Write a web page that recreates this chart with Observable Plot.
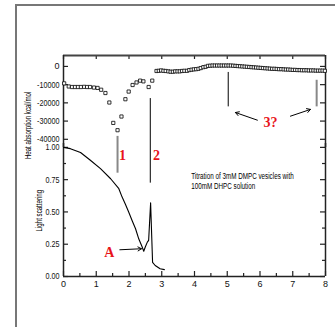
<!DOCTYPE html>
<html><head><meta charset="utf-8">
<script src="https://cdn.jsdelivr.net/npm/d3@7"></script>
<script src="https://cdn.jsdelivr.net/npm/@observablehq/plot@0.6"></script>
<style>
html,body{margin:0;padding:0;background:#fff;}
#wrap{position:relative;width:335px;height:327px;overflow:hidden;}
#frame{position:absolute;left:15px;top:4px;width:340px;height:340px;border-top:2px solid #777;border-left:2px solid #777;}
#wrap svg{position:absolute;left:0;top:0;background:none !important;}
</style></head><body><div id="wrap"><div id="frame"></div></div>
<script>
// Heat absorption (kcal/mol) — open squares, top panel
const heatX = [0.02,0.16,0.26,0.35,0.44,0.53,0.63,0.72,0.81,0.93,1.04,1.15,1.28,1.40,1.52,1.65,1.77,1.89,1.99,2.11,2.23,2.34,2.44,2.60,2.71,
  2.84,2.91,2.98,3.05,3.12,3.20,3.27,3.34,3.41,3.48,3.55,3.62,3.69,3.77,3.84,3.91,3.98,4.05,4.12,4.19,4.27,4.34,
  4.41,4.48,4.55,4.62,4.69,4.76,4.83,4.90,4.97,5.04,5.11,5.18,5.25,5.32,5.39,5.46,5.53,5.60,5.67,5.74,5.81,5.88,5.95,
  6.02,6.09,6.16,6.23,6.30,6.37,6.44,6.51,6.58,6.65,6.72,6.79,6.86,6.93,7.00,7.07,7.14,7.21,7.28,7.35,7.42,7.49,7.56,7.63,7.70,7.77,7.84,7.91,7.98];
const heatY = [-9300,-11000,-11300,-11300,-11300,-11300,-11200,-11300,-11300,-11600,-11800,-12800,-14600,-19800,-31000,-35000,-27500,-18000,-13800,-10200,-8800,-7800,-8200,-11300,-7800,
  -2500,-2400,-2200,-2400,-2500,-2700,-2900,-2900,-2700,-2700,-2700,-2500,-2400,-2400,-2000,-1800,-1600,-1500,-1300,-900,-400,-200,
  300,400,500,500,500,500,500,500,500,500,500,400,300,200,100,0,-100,-200,-300,-400,-500,-600,-700,
  -800,-900,-1000,-1100,-1200,-1300,-1300,-1400,-1500,-1500,-1600,-1700,-1700,-1800,-1900,-1900,-2000,-2000,-2100,-2100,-2100,-2200,-2200,-2200,-2300,-2300,-2300,-2300,-2400];
// Light scattering — line, bottom panel
const scatX = [0,0.21,0.52,0.82,1.13,1.44,1.69,1.79,1.89,1.99,2.10,2.20,2.30,2.40,2.45,2.50,2.56,2.60,2.66,2.72,2.80,2.95,3.08];
const scatY = [1.0,0.99,0.96,0.90,0.835,0.757,0.68,0.615,0.56,0.50,0.43,0.37,0.29,0.23,0.196,0.23,0.266,0.28,0.57,0.11,0.085,0.06,0.053];
// ticks
const xTicks = [0,1,2,3,4,5,6,7,8];
const xMinor = [0.5,1.5,2.5,3.5,4.5,5.5,6.5,7.5];
const heatTicks = [0,-10000,-20000,-30000,-40000];
const scatTicks = [0,0.25,0.5,0.75,1.0];
const scatMinor = [0.125,0.375,0.625,0.875];
// annotations
const markLines = [
  {name:"1", x:1.65, y1:1.085, y2:0.80, color:"#888", w:2},
  {name:"2", x:2.65, y1:1.378, y2:0.723, color:"#000", w:1}
];
const heatLines = [
  {name:"3a", x:5.03, y1:-3300, y2:-22200, color:"#000", w:1},
  {name:"3b", x:7.73, y1:-7600, y2:-22200, color:"#888", w:2}
];
const heatArrows = [
  {x1:5.92, y1:-29500, x2:5.25, y2:-25300},
  {x1:6.93, y1:-27300, x2:7.54, y2:-23600}
];
const redLabels = [{t:"1", x:1.80, y:0.94},{t:"2", x:2.84, y:0.94},{t:"A", x:1.40, y:0.184}];
const heatLabel = [{t:"3?", x:6.32, y:-30600}];
const aArrow = [{x1:1.72, y1:0.207, x2:2.38, y2:0.215}];
const note = [{t:"Titration of 3mM DMPC vesicles with\n100mM DHPC solution", x:3.90, y:0.74}];
const axisLabels = [
  {t:"Heat absorption kcal/mol", x:-1.07, y:1.17},
  {t:"Light scattering", x:-0.76, y:0.51}
];

const RED = "#e8141b";
const FONT = "'Liberation Sans',Arial,sans-serif";
const SERIF = "'Liberation Serif','DejaVu Serif',serif";
const W = 335, ML = 63, MR = 10;
const FW = W - ML - MR;

const heat = heatX.map((x,i)=>({x, y:heatY[i]}));
const scat = scatX.map((x,i)=>({x, y:scatY[i]}));

const bottomPlot = Plot.plot({
  width: W, height: 327, marginLeft: ML, marginRight: MR, marginTop: 143, marginBottom: 51,
  style: {fontFamily: FONT, fontSize: "9px", background: "none", overflow: "visible"},
  x: {domain:[0,8], axis: null},
  y: {domain:[0,1.03], axis: null},
  marks: [
    Plot.axisX({ticks: xTicks, tickSize: 0, tickPadding: 4, tickFormat: d=>String(d), label: null, fill:"#111"}),
    Plot.axisY({ticks: scatTicks, tickSize: 0, tickPadding: 4, tickFormat: d3.format(".2f"), label: null, fill:"#111"}),
    Plot.tickX(xTicks, {x: d=>d, insetTop: 133-5, stroke:"#222", strokeWidth:1.2}),
    Plot.tickX(xMinor, {x: d=>d, insetTop: 133-3, stroke:"#222", strokeWidth:1.2}),
    Plot.tickY(scatTicks, {y: d=>d, insetRight: FW-5, stroke:"#222", strokeWidth:1.2}),
    Plot.tickY(scatMinor, {y: d=>d, insetRight: FW-3, stroke:"#222", strokeWidth:1.2}),
    Plot.tickY(scatTicks, {y: d=>d, insetLeft: FW-5, stroke:"#222", strokeWidth:1.2}),
    Plot.tickY(scatMinor, {y: d=>d, insetLeft: FW-3, stroke:"#222", strokeWidth:1.2}),
    Plot.ruleY([0], {stroke:"#222", strokeWidth:1.5}),
    Plot.ruleX([0,8], {stroke:"#222", strokeWidth:1.5}),
    Plot.line(scat, {x:"x", y:"y", stroke:"#000", strokeWidth:1.1}),
    Plot.ruleX(markLines, {x:"x", y1:"y1", y2:"y2", stroke:d=>d.color, strokeWidth:d=>d.w}),
    Plot.arrow(aArrow, {x1:"x1", y1:"y1", x2:"x2", y2:"y2", stroke:"#000", strokeWidth:1, headLength:6, bend:0}),
    Plot.text(redLabels, {x:"x", y:"y", text:"t", fill:RED, fontFamily:SERIF, fontWeight:"bold", fontSize:14}),
    Plot.text(note, {x:"x", y:"y", text:"t", textAnchor:"start", lineHeight:1.1, fill:"#000", fontSize:8.5}),
    Plot.text(axisLabels, {x:"x", y:"y", text:"t", rotate:-90, fill:"#000", fontSize:9})
  ]
});

const topPlot = Plot.plot({
  width: W, height: 150, marginLeft: ML, marginRight: MR, marginTop: 55, marginBottom: 3,
  style: {fontFamily: FONT, fontSize: "9px", background: "none", overflow: "visible"},
  x: {domain:[0,8], axis: null},
  y: {domain:[-44500,6000], axis: null},
  marks: [
    Plot.axisY({ticks: heatTicks, tickSize: 0, tickPadding: 4, tickFormat: d=>String(d), label: null, fill:"#111"}),
    Plot.tickY(heatTicks, {y: d=>d, insetRight: FW-5, stroke:"#222", strokeWidth:1.2}),
    Plot.tickY(heatTicks, {y: d=>d, insetLeft: FW-5, stroke:"#222", strokeWidth:1.2}),
    Plot.tickX(xTicks, {x: d=>d, insetBottom: 92-4, stroke:"#222", strokeWidth:1.2}),
    Plot.ruleY([6000], {stroke:"#444", strokeWidth:1.8}),
    Plot.ruleX([0,8], {stroke:"#222", strokeWidth:1.5}),
    Plot.dot(heat, {x:"x", y:"y", symbol:"square", r:1.8, stroke:"#000", fill:"white", strokeWidth:0.8}),
    Plot.ruleX(heatLines, {x:"x", y1:"y1", y2:"y2", stroke:d=>d.color, strokeWidth:d=>d.w}),
    Plot.arrow(heatArrows, {x1:"x1", y1:"y1", x2:"x2", y2:"y2", stroke:"#000", strokeWidth:1, headLength:6, bend:0}),
    Plot.text(heatLabel, {x:"x", y:"y", text:"t", fill:RED, fontFamily:SERIF, fontWeight:"bold", fontSize:14})
  ]
});

const wrap = document.getElementById("wrap");
wrap.appendChild(bottomPlot);
wrap.appendChild(topPlot);

// condensed look (the reference uses a narrow face): squeeze glyphs horizontally
function squeezeAll() {
  wrap.querySelectorAll("svg text").forEach(t => {
    const s = t.textContent.trim();
    let k;
    if (/^[-\d.]+$/.test(s)) k = s.length > 1 ? 0.8 : 1;
    else if (/^(1|2|A|3\?)$/.test(s)) k = 1;
    else if (s.startsWith("Titration")) k = 0.74;
    else k = 0.68;
    if (k === 1) return;
    const parts = t.querySelectorAll("tspan");
    (parts.length ? Array.from(parts) : [t]).forEach(el => {
      const len = el.getComputedTextLength();
      if (len > 0) {
        el.setAttribute("textLength", (len * k).toFixed(1));
        el.setAttribute("lengthAdjust", "spacingAndGlyphs");
      }
    });
  });
}
squeezeAll();
</script>
</body></html>
